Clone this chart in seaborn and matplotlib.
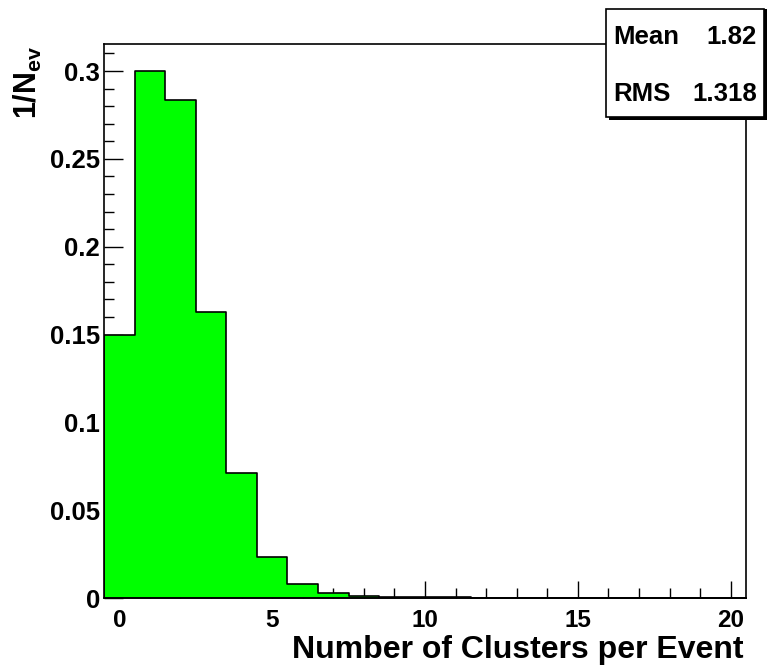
import numpy as np
import pandas as pd
import seaborn as sns
import matplotlib.pyplot as plt
from matplotlib.patches import Rectangle
from matplotlib.ticker import MultipleLocator

sns.set_style("white")
plt.rcParams['font.family'] = ['Liberation Sans', 'DejaVu Sans']
plt.rcParams['font.weight'] = 'bold'
plt.rcParams['mathtext.fontset'] = 'custom'
plt.rcParams['mathtext.bf'] = 'Liberation Sans:bold'
plt.rcParams['mathtext.rm'] = 'Liberation Sans:bold'
for k in ['text.color', 'axes.labelcolor', 'xtick.color', 'ytick.color']:
    plt.rcParams[k] = 'black'

# clusters per event, normalised to number of events
n_clusters = list(range(21))
frac = [0.150, 0.300, 0.2835, 0.163, 0.0712, 0.0236, 0.0078, 0.0030,
        0.0012, 0.0006, 0.0004, 0.0003, 0, 0, 0, 0, 0, 0, 0, 0, 0]
mean_val = "1.82"
rms_val = "1.318"

df = pd.DataFrame({"n": n_clusters, "w": frac})

fig = plt.figure(figsize=(7.67, 6.69), dpi=100)
ax = fig.add_axes([104/767, 1-598/669, 642/767, 554/669])

sns.histplot(data=df, x="n", weights="w", binwidth=1, binrange=(-0.5, 20.5),
             element="step", fill=True, color="#00ff00", alpha=1.0,
             edgecolor="black", linewidth=1.2, ax=ax)
ax.set_xlim(-0.5, 20.5)
ax.set_ylim(0, 0.3154)
ax.set_xlabel("")
ax.set_ylabel("")

ax.xaxis.set_major_locator(MultipleLocator(5))
ax.xaxis.set_minor_locator(MultipleLocator(1))
ax.yaxis.set_minor_locator(MultipleLocator(0.01))
ax.set_yticks([0, 0.05, 0.1, 0.15, 0.2, 0.25, 0.3])
ax.set_yticklabels(["0", "0.05", "0.1", "0.15", "0.2", "0.25", "0.3"])
ax.tick_params(which="both", direction="in", bottom=True, left=True,
               top=False, right=False, width=1, color="black")
ax.tick_params(axis="x", which="major", length=12.5, pad=8, labelsize=17.5)
ax.tick_params(axis="x", which="minor", length=7)
ax.tick_params(axis="y", which="major", length=13.5, pad=3, labelsize=18.5)
ax.tick_params(axis="y", which="minor", length=7)
for lab in ax.get_xticklabels() + ax.get_yticklabels():
    lab.set_fontweight("bold")
for s in ax.spines.values():
    s.set_color("black")
    s.set_linewidth(1.2)

fig.text(744/767, 1-650/669, "Number of Clusters per Event", ha="right",
         va="center", fontsize=23, fontweight="bold")
fig.text(28/767, 1-46/669, r"$\mathbf{1/N_{ev}}$", rotation=90, ha="center",
         va="top", fontsize=22)

# stats box
fig.patches.append(Rectangle((609/767, 1-120/669), 158/767, 111/669,
                             transform=fig.transFigure, facecolor="black",
                             edgecolor="none", zorder=10))
fig.patches.append(Rectangle((606/767, 1-117/669), 158/767, 108/669,
                             transform=fig.transFigure, facecolor="white",
                             edgecolor="black", linewidth=1.2, zorder=11))
fig.text(613/767, 1-37/669, "Mean", ha="left", va="center", fontsize=18.5,
         fontweight="bold", zorder=12)
fig.text(757/767, 1-37/669, mean_val, ha="right", va="center", fontsize=18.5,
         fontweight="bold", zorder=12)
fig.text(613/767, 1-94/669, "RMS", ha="left", va="center", fontsize=18.5,
         fontweight="bold", zorder=12)
fig.text(757/767, 1-94/669, rms_val, ha="right", va="center", fontsize=18.5,
         fontweight="bold", zorder=12)

fig.savefig("out.png", dpi=100)
